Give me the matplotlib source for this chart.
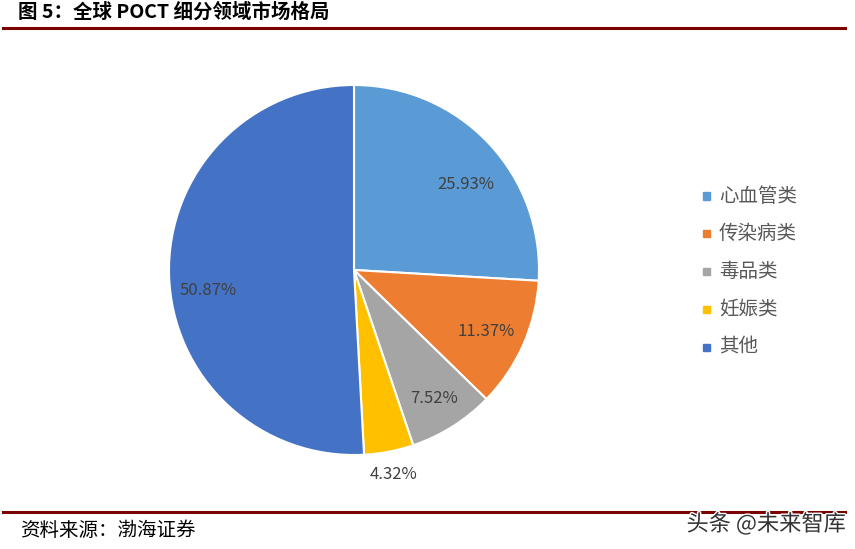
import matplotlib.pyplot as plt
import matplotlib.patheffects as pe
import numpy as np

plt.rcParams['font.family'] = ['Noto Sans CJK SC', 'DejaVu Sans']

categories = ['心血管类', '传染病类', '毒品类', '妊娠类', '其他']
shares = [25.93, 11.37, 7.52, 4.32, 50.87]
colors = ['#5B9BD5', '#ED7D31', '#A5A5A5', '#FFC000', '#4472C4']
label_dist = [0.76, 0.78, 0.84, 1.12, 0.79]
# small nudges (points) to match where the labels sit in the source
label_nudge = [(7, -8), (0, -2), (-2, 2), (0, -1), (0, -12)]

fig = plt.figure(figsize=(8.55, 5.49), dpi=100)

# pie axes: centre ~ (354, 270) px, radius ~185 px
cx, cy, r = 354, 270, 185
ax = fig.add_axes([(cx - r) / 855, (549 - cy - r) / 549, 2 * r / 855, 2 * r / 549])
wedges, _ = ax.pie(shares, colors=colors, startangle=90, counterclock=False,
                   radius=1, wedgeprops=dict(edgecolor='white', linewidth=1.5))
ax.set_xlim(-1, 1)
ax.set_ylim(-1, 1)
ax.set_aspect('equal')
ax.axis('off')

for w, v, d, nd in zip(wedges, shares, label_dist, label_nudge):
    ang = np.deg2rad((w.theta1 + w.theta2) / 2)
    ax.annotate(f'{v:.2f}%', (d * np.cos(ang), d * np.sin(ang)), xytext=nd,
                textcoords='offset points', ha='center', va='center',
                fontsize=12, color='#404040', annotation_clip=False)

# legend
for i, (c, name) in enumerate(zip(colors, categories)):
    y = 1 - (196 + i * 37.8) / 549
    fig.patches.append(plt.Rectangle((703 / 855, y - 3.5 / 549), 7 / 855, 7 / 549,
                                     transform=fig.transFigure, color=c, figure=fig))
    fig.text(719 / 855, y, name, fontsize=14, color='#595959', va='center', ha='left')

# title and rules
fig.text(18 / 855, 1 - 12 / 549, '图 5：全球 POCT 细分领域市场格局', fontsize=14,
         fontweight='heavy', va='center', ha='left', color='black')
fig.add_artist(plt.Line2D([3 / 855, 845 / 855], [1 - 28 / 549] * 2, color='#7B0000', lw=2.2))
fig.add_artist(plt.Line2D([3 / 855, 845 / 855], [1 - 512 / 549] * 2, color='#7B0000', lw=2.2))

fig.text(20 / 855, 1 - 530 / 549, '资料来源：渤海证券', fontsize=14, style='italic',
         va='center', ha='left', color='black')
fig.text(846 / 855, 1 - 524 / 549, '头条 @未来智库', fontsize=16, va='center', ha='right',
         color='#333333', path_effects=[pe.withStroke(linewidth=2, foreground='white')])

fig.savefig('out.png', dpi=100)
